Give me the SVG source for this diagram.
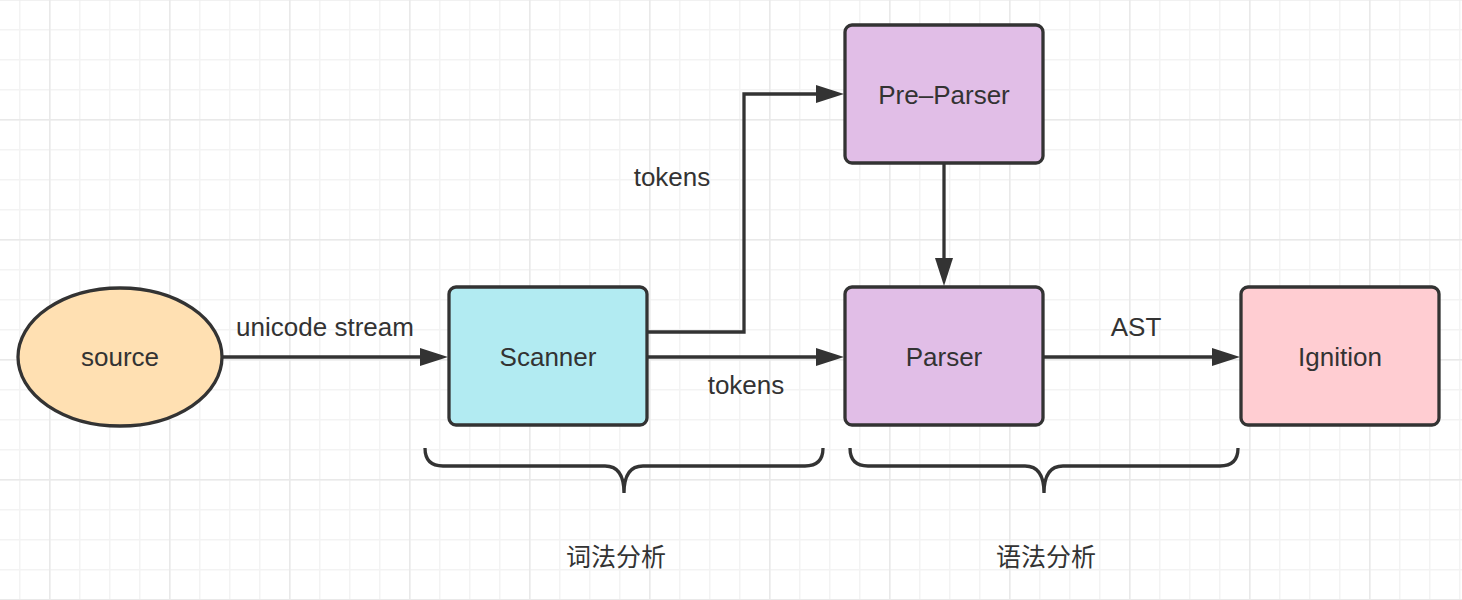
<svg xmlns="http://www.w3.org/2000/svg" width="1462" height="600" viewBox="0 0 1462 600">
  <defs>
    <pattern id="minor" patternUnits="userSpaceOnUse" x="19" y="29" width="30" height="30">
      <path d="M0.5,0 V30 M0,0.5 H30" stroke="#f3f3f3" stroke-width="2" fill="none"/>
    </pattern>
    <pattern id="major" patternUnits="userSpaceOnUse" x="49" y="119" width="120" height="120">
      <path d="M0.5,0 V120 M0,0.5 H120" stroke="#e9e9e9" stroke-width="2" fill="none"/>
    </pattern>
    <marker id="arrow" markerUnits="userSpaceOnUse" markerWidth="28" markerHeight="18" refX="2" refY="9" orient="auto">
      <path d="M0,0 L28,9 L0,18 Z" fill="#333333"/>
    </marker>
    <style>
      .node { stroke: #333333; stroke-width: 3.3; }
      .lbl { font-family: "Liberation Sans", Arial, sans-serif; font-size: 26px; fill: #333333; text-anchor: middle; }
      .cjk { font-family: "Noto Sans CJK SC", sans-serif; font-size: 25px; fill: #333333; text-anchor: middle; }
      .conn { fill: none; stroke: #333333; stroke-width: 3.3; }
    </style>
  </defs>

  <rect width="1462" height="600" fill="#ffffff"/>
  <rect width="1462" height="600" fill="url(#minor)"/>
  <rect width="1462" height="600" fill="url(#major)"/>

  <g id="connectors">
    <path class="conn" d="M222,357 H422" marker-end="url(#arrow)"/>
    <path class="conn" d="M648,332 H744 V94 H818" marker-end="url(#arrow)"/>
    <path class="conn" d="M648,357 H818" marker-end="url(#arrow)"/>
    <path class="conn" d="M944,164 V260" marker-end="url(#arrow)"/>
    <path class="conn" d="M1044,357 H1214" marker-end="url(#arrow)"/>
    <text class="lbl" x="325" y="336">unicode stream</text>
    <text class="lbl" x="672" y="186">tokens</text>
    <text class="lbl" x="746" y="394">tokens</text>
    <text class="lbl" x="1136" y="336">AST</text>
  </g>

  <g id="source">
    <ellipse class="node" cx="120" cy="357" rx="102" ry="69" fill="#ffe0b2"/>
    <text class="lbl" x="120" y="366">source</text>
  </g>
  <g id="scanner">
    <rect class="node" x="449" y="287" width="198" height="138" rx="7" fill="#b2ebf2"/>
    <text class="lbl" x="548" y="366">Scanner</text>
  </g>
  <g id="pre-parser">
    <rect class="node" x="845" y="25" width="198" height="138" rx="7" fill="#e1bee7"/>
    <text class="lbl" x="944" y="104">Pre–Parser</text>
  </g>
  <g id="parser">
    <rect class="node" x="845" y="287" width="198" height="138" rx="7" fill="#e1bee7"/>
    <text class="lbl" x="944" y="366">Parser</text>
  </g>
  <g id="ignition">
    <rect class="node" x="1241" y="287" width="198" height="138" rx="7" fill="#ffcdd2"/>
    <text class="lbl" x="1340" y="366">Ignition</text>
  </g>

  <g id="lexical-brace">
    <path class="conn" d="M425,448 Q425,466 443,466 H605 Q624,466 624,493 Q624,466 643,466 H805 Q823,466 823,448"/>
    <text class="cjk" x="616" y="566">词法分析</text>
  </g>
  <g id="syntax-brace">
    <path class="conn" d="M850,448 Q850,466 868,466 H1025 Q1044,466 1044,493 Q1044,466 1063,466 H1220 Q1238,466 1238,448"/>
    <text class="cjk" x="1046" y="566">语法分析</text>
  </g>
</svg>
